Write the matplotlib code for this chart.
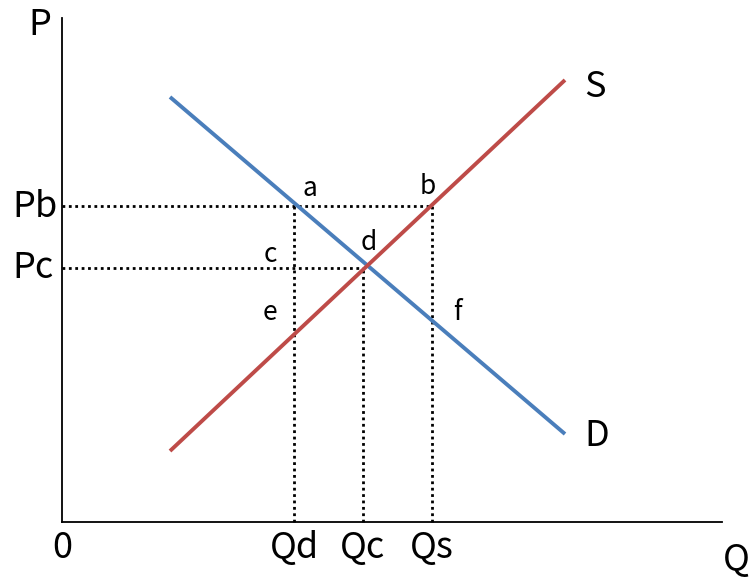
import matplotlib.pyplot as plt

plt.rcParams['font.family'] = ['Noto Sans CJK KR', 'DejaVu Sans']

# curves (quantity, price) in diagram units, origin at the axes corner
demand_q = [108, 503]
demand_p = [425, 88]
supply_q = [108, 503]
supply_p = [71, 442]

# reference levels
Pb, Pc = 316, 254
Qd, Qc, Qs = 232, 301, 370

point_labels = ['a', 'b', 'c', 'd', 'e', 'f']
point_xy = [(248, 334), (366, 335), (208, 267), (307, 280), (208, 210), (395, 210)]

fig = plt.figure(figsize=(7.49, 5.82), dpi=100)
ax = fig.add_axes([0, 0, 1, 1])
ax.set_xlim(-62, 687)
ax.set_ylim(-60, 522)
ax.axis('off')

# axes lines
ax.plot([0, 0], [0, 504], color='black', lw=1.3)
ax.plot([0, 660], [0, 0], color='black', lw=1.3)

# dotted guides
dot = dict(color='black', lw=2, linestyle=(0, (1, 1.3)))
ax.plot([0, Qs], [Pb, Pb], **dot)
ax.plot([0, Qc], [Pc, Pc], **dot)
ax.plot([Qd, Qd], [0, Pb], **dot)
ax.plot([Qc, Qc], [0, Pc], **dot)
ax.plot([Qs, Qs], [0, Pb], **dot)

ax.plot(demand_q, demand_p, color='#4a7ebb', lw=2.8, solid_capstyle='butt')
ax.plot(supply_q, supply_p, color='#be4b48', lw=2.8, solid_capstyle='butt')

big = 26
ax.text(-22, 497, 'P', fontsize=big, ha='center', va='center')
ax.text(-27, 315, 'Pb', fontsize=big, ha='center', va='center')
ax.text(-29, 254, 'Pc', fontsize=big, ha='center', va='center')
ax.text(0, -26, '0', fontsize=big, ha='center', va='center')
for q, lab in zip([Qd, Qc, Qs], ['Qd', 'Qc', 'Qs']):
    ax.text(q, -26, lab, fontsize=big, ha='center', va='center')
ax.text(674, -38, 'Q', fontsize=big, ha='center', va='center')
ax.text(533, 435, 'S', fontsize=big, ha='center', va='center')
ax.text(535, 86, 'D', fontsize=big, ha='center', va='center')

for lab, (x, y) in zip(point_labels, point_xy):
    ax.text(x, y, lab, fontsize=19, ha='center', va='center')

fig.savefig('out.png', dpi=100)
